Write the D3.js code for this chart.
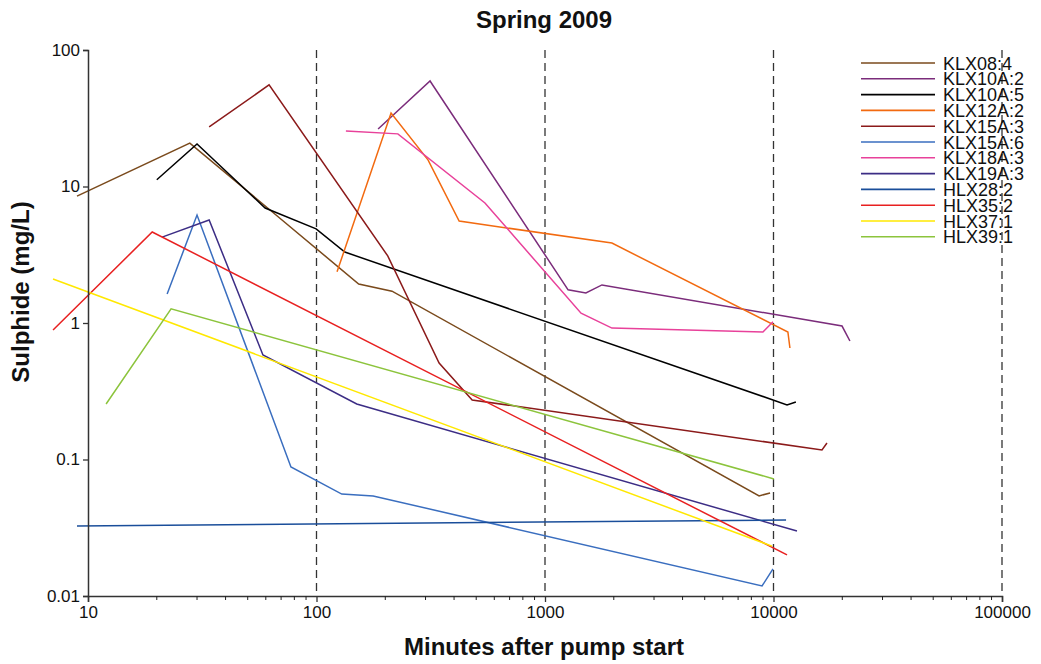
<!DOCTYPE html>
<html>
<head>
<meta charset="utf-8">
<script src="https://cdn.jsdelivr.net/npm/d3@7"></script>
<style>
  html, body { margin: 0; padding: 0; background: #fff; }
  svg { display: block; font-family: "Liberation Sans", Arial, sans-serif; }
</style>
</head>
<body>
<svg id="chart" width="1041" height="664"></svg>
<script>
// ---------- data ----------
const seriesNames = ["KLX08:4","KLX10A:2","KLX10A:5","KLX12A:2","KLX15A:3","KLX15A:6",
                     "KLX18A:3","KLX19A:3","HLX28:2","HLX35:2","HLX37:1","HLX39:1"];
// [minutes, mg/L]
const klx08_4  = [[8.95,8.51],[27.9,20.8],[153,1.93],[214,1.71],[8650,0.0541],[9660,0.0569]];
const klx10a_2 = [[186,26.4],[314,59.3],[1262,1.75],[1510,1.66],[1775,1.90],[19950,0.95],[21600,0.738]];
const klx10a_5 = [[20.0,11.2],[30.0,20.5],[59.6,6.95],[99.6,4.89],[133,3.31],[9950,0.273],[11460,0.251],[12530,0.264]];
const klx12a_2 = [[123,2.37],[212,34.5],[308,15.6],[421,5.58],[1963,3.85],[11560,0.859],[11800,0.656]];
const klx15a_3 = [[33.9,27.3],[62.0,55.5],[205,3.10],[344,0.509],[480,0.273],[16300,0.1175],[17140,0.132]];
const klx15a_6 = [[22.2,1.63],[30.0,6.18],[77.3,0.0881],[129,0.0558],[177,0.0541],[8910,0.01184],[9950,0.0158]];
const klx18a_3 = [[134.5,25.5],[227,24.3],[546,7.57],[1438,1.18],[1963,0.918],[8990,0.859],[9950,1.02]];
const klx19a_3 = [[21.1,4.26],[33.9,5.69],[58.3,0.583],[150,0.255],[12670,0.0299]];
const hlx28_2  = [[8.95,0.0326],[11350,0.0360]];
const hlx35_2  = [[7.03,0.889],[19.1,4.64],[11460,0.0200]];
const hlx37_1  = [[7.03,2.10],[9850,0.0232]];
const hlx39_1  = [[12.0,0.255],[23.1,1.27],[10050,0.0720]];
const seriesValues = [klx08_4,klx10a_2,klx10a_5,klx12a_2,klx15a_3,klx15a_6,
                      klx18a_3,klx19a_3,hlx28_2,hlx35_2,hlx37_1,hlx39_1];

const xTickValues = [10,100,1000,10000,100000];
const xTickLabels = ["10","100","1000","10000","100000"];
const yTickValues = [0.01,0.1,1,10,100];
const yTickLabels = ["0.01","0.1","1","10","100"];
const gridValues  = [100,1000,10000,100000];

// ---------- styles ----------
const colors = ["#7a4a1c","#7b2c7b","#000000","#f26a10","#8b1a1a","#3a6ebf",
                "#e8419a","#3c2d85","#1a4e9a","#e82020","#ffe800","#8cc43c"];

const svg = d3.select("#chart");
const x = d3.scaleLog().domain([10,100000]).range([88,1002]);
const y = d3.scaleLog().domain([0.01,100]).range([596,50]);

// dashed vertical lines
svg.append("g").selectAll("line").data(gridValues).join("line")
  .attr("x1", d => x(d)).attr("x2", d => x(d))
  .attr("y1", y(100)).attr("y2", y(0.01))
  .attr("stroke", "#333").attr("stroke-width", 1.3)
  .attr("stroke-dasharray", "8,5");

// series lines
const line = d3.line().x(d => x(d[0])).y(d => y(d[1]));
svg.append("g").selectAll("path").data(seriesValues).join("path")
  .attr("d", line)
  .attr("fill", "none")
  .attr("stroke", (d,i) => colors[i])
  .attr("stroke-width", 1.5)
  .attr("stroke-linejoin", "miter");

// x axis (major ticks)
const xAxis = d3.axisBottom(x).tickValues(xTickValues)
  .tickFormat((d,i) => xTickLabels[i]).tickSize(6).tickPadding(4);
const gx = svg.append("g").attr("transform", `translate(0,${y(0.01)})`).call(xAxis);
// minor ticks
const minor = [];
for (let e = 1; e < 5; e++) for (let m = 2; m <= 9; m++) minor.push(m * Math.pow(10, e));
gx.selectAll(".minor").data(minor).join("line").attr("class","minor")
  .attr("x1", d => x(d)).attr("x2", d => x(d)).attr("y1", 0).attr("y2", 4)
  .attr("stroke", "#222").attr("stroke-width", 1);

// y axis
const yAxis = d3.axisLeft(y).tickValues(yTickValues)
  .tickFormat((d,i) => yTickLabels[i]).tickSize(5).tickPadding(3);
const gy = svg.append("g").attr("transform", `translate(${x(10)},0)`).call(yAxis);

[gx, gy].forEach(g => {
  g.select(".domain").attr("stroke", "#333").attr("stroke-width", 1.5);
  g.selectAll(".tick line").attr("stroke", "#333").attr("stroke-width", 1.3);
  g.selectAll(".tick text").attr("fill", "#111")
    .style("font-size", "17px").style("font-family", '"Liberation Sans", Arial, sans-serif');
});

// titles
svg.append("text").attr("x", 544).attr("y", 28).attr("text-anchor", "middle")
  .style("font-size", "24px").style("font-weight", "bold").attr("fill", "#111")
  .text("Spring 2009");
svg.append("text").attr("x", 544).attr("y", 655).attr("text-anchor", "middle")
  .style("font-size", "24px").style("font-weight", "bold").attr("fill", "#111")
  .text("Minutes after pump start");
svg.append("text").attr("transform", "translate(29,292) rotate(-90)").attr("text-anchor", "middle")
  .style("font-size", "24px").style("font-weight", "bold").attr("fill", "#111")
  .text("Sulphide (mg/L)");

// legend
const lg = svg.append("g").attr("transform", "translate(861,63)");
const rows = lg.selectAll("g").data(seriesNames).join("g")
  .attr("transform", (d,i) => `translate(0,${i*15.8})`);
rows.append("line").attr("x1", 0).attr("x2", 74).attr("y1", 0).attr("y2", 0)
  .attr("stroke", (d,i) => colors[i]).attr("stroke-width", 1.6);
rows.append("text").attr("x", 82).attr("y", 6.5)
  .style("font-size", "18px").attr("fill", "#111").text(d => d);
</script>
</body>
</html>
